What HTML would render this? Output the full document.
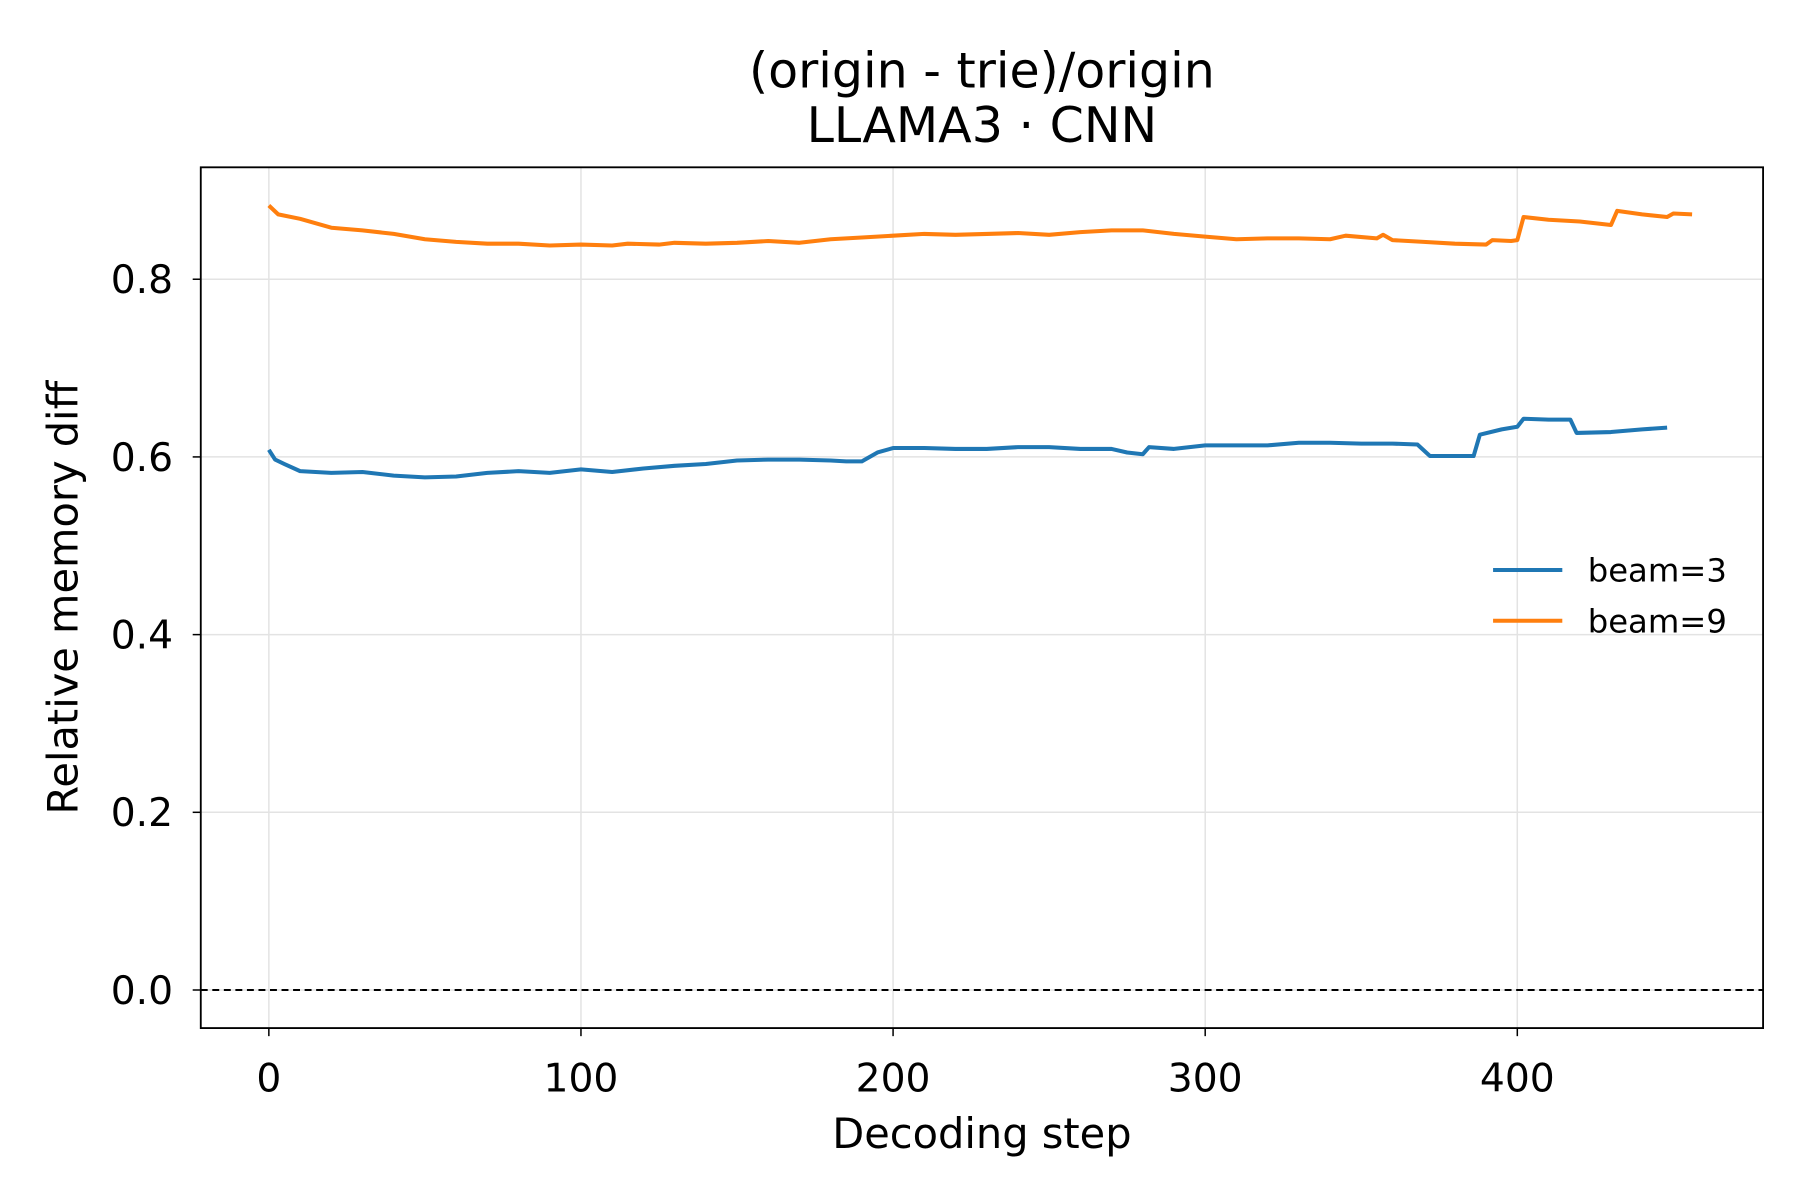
<!DOCTYPE html>
<html><head><meta charset="utf-8"><style>html,body{margin:0;padding:0;background:#fff}svg{display:block}</style></head>
<body>
<svg id="chart" width="1800" height="1200" viewBox="0 0 1560 1040" xmlns="http://www.w3.org/2000/svg" font-family="'DejaVu Sans', 'Liberation Sans', sans-serif">
<rect width="1560" height="1040" fill="#fff"/>
<g id="grid"></g>
<g id="plot"></g>
<rect x="174" y="145" width="1354" height="746" fill="none" stroke="#000" stroke-width="1.6"/>
<g id="ticks"></g>
<text x="851" y="76" text-anchor="middle" font-size="42.5">(origin - trie)/origin</text>
<text x="851" y="123" text-anchor="middle" font-size="42.5">LLAMA3 · CNN</text>
<text x="851" y="995" text-anchor="middle" font-size="36">Decoding step</text>
<text transform="translate(67,518) rotate(-90)" text-anchor="middle" font-size="36">Relative memory diff</text>
<g>
<line x1="1294" y1="494" x2="1354" y2="494" stroke="#1f77b4" stroke-width="3.5"/>
<text x="1376" y="504" font-size="28">beam=3</text>
<line x1="1294" y1="538" x2="1354" y2="538" stroke="#ff7f0e" stroke-width="3.5"/>
<text x="1376" y="548" font-size="28">beam=9</text>
</g>
</svg>
<script>
const xTicks=[0,100,200,300,400];
const yTicks=[0.0,0.2,0.4,0.6,0.8];
const yTickLabels=["0.0","0.2","0.4","0.6","0.8"];
const beam3X=[0,2,5,10,20,30,40,50,60,70,80,90,100,110,120,130,140,150,160,170,180,185,190,195,200,210,220,230,240,250,260,270,275,280,282,290,300,320,330,340,350,360,368,372,386,388,395,400,402,410,417,419,430,440,448];
const beam3Y=[0.608,0.597,0.592,0.584,0.582,0.583,0.579,0.577,0.578,0.582,0.584,0.582,0.586,0.583,0.587,0.590,0.592,0.596,0.597,0.597,0.596,0.595,0.595,0.605,0.610,0.610,0.609,0.609,0.611,0.611,0.609,0.609,0.605,0.603,0.611,0.609,0.613,0.613,0.616,0.616,0.615,0.615,0.614,0.601,0.601,0.625,0.631,0.634,0.643,0.642,0.642,0.627,0.628,0.631,0.633];
const beam9X=[0,3,10,20,30,40,50,60,70,80,90,100,110,115,125,130,140,150,160,170,180,190,200,210,220,230,240,250,260,270,280,290,300,310,320,330,340,345,355,357,360,370,380,390,392,398,400,402,410,420,430,432,440,448,450,456];
const beam9Y=[0.883,0.873,0.868,0.858,0.855,0.851,0.845,0.842,0.840,0.840,0.838,0.839,0.838,0.840,0.839,0.841,0.840,0.841,0.843,0.841,0.845,0.847,0.849,0.851,0.850,0.851,0.852,0.850,0.853,0.855,0.855,0.851,0.848,0.845,0.846,0.846,0.845,0.849,0.846,0.850,0.844,0.842,0.840,0.839,0.844,0.843,0.844,0.870,0.867,0.865,0.861,0.877,0.873,0.870,0.874,0.873];
const NS="http://www.w3.org/2000/svg";
const L=174,R=1528,T=145,B=891;
function sx(v){return 233+v*2.705;}
function sy(v){return 858-v*770;}
function mk(tag,attrs,parent){const e=document.createElementNS(NS,tag);for(const k in attrs)e.setAttribute(k,attrs[k]);parent.appendChild(e);return e;}
const grid=document.getElementById('grid'),ticks=document.getElementById('ticks'),plot=document.getElementById('plot');
xTicks.forEach(v=>{
 const g=mk('line',{x1:sx(v),x2:sx(v),y1:T,y2:B,stroke:'#e3e3e3','stroke-width':1.3},grid);
 
 
 const t=mk('line',{x1:sx(v),x2:sx(v),y1:B,y2:B+7,stroke:'#000','stroke-width':1.3},ticks);
 
 
 const l=mk('text',{x:sx(v),y:B+55,'text-anchor':'middle','font-size':34},ticks);l.textContent=String(v);
 
 
});
yTicks.forEach((v,i)=>{
 const g=mk('line',{x1:L,x2:R,y1:sy(v),y2:sy(v),stroke:'#e3e3e3','stroke-width':1.3},grid);
 
 
 const t=mk('line',{x1:L-7,x2:L,y1:sy(v),y2:sy(v),stroke:'#000','stroke-width':1.3},ticks);
 
 
 const l=mk('text',{x:L-24,y:sy(v)+12,'text-anchor':'end','font-size':34},ticks);l.textContent=yTickLabels[i];
 
 
});
const z=mk('line',{x1:L,x2:R,y1:sy(0),y2:sy(0),stroke:'#000','stroke-width':1.8,'stroke-dasharray':'6,4'},plot);


function series(xs,ys,color,name){
 const p=mk('polyline',{points:xs.map((x,i)=>sx(x)+','+sy(ys[i])).join(' '),fill:'none',stroke:color,'stroke-width':3.5,'stroke-linejoin':'round'},plot);
 
 
}
series(beam3X,beam3Y,'#1f77b4','series-beam3');
series(beam9X,beam9Y,'#ff7f0e','series-beam9');
</script>
</body></html>
